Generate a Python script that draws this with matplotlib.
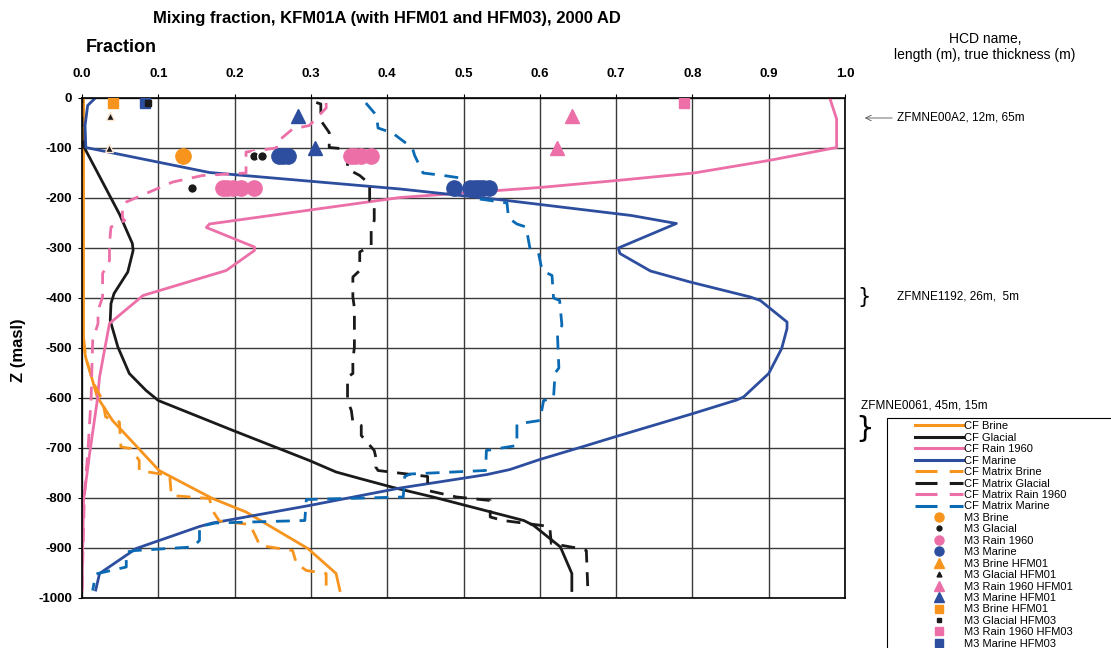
import matplotlib
matplotlib.use('Agg')
from matplotlib import pyplot as plt
from matplotlib.lines import Line2D
from matplotlib.patches import Rectangle

plt.rcParams['font.family'] = ['Liberation Sans', 'DejaVu Sans']
plt.rcParams['axes.unicode_minus'] = False

# CF curves (solid), fraction vs depth z (masl)
cf_brine_f = [0.002, 0.002, 0.002, 0.005, 0.01, 0.02, 0.04, 0.101, 0.171, 0.215, 0.296, 0.333, 0.338]
cf_brine_z = [0, -300, -495, -520, -545, -598, -645, -745, -801, -828, -901, -951, -985]

cf_glacial_f = [0.0, 0.0, 0.003, 0.049, 0.066, 0.067, 0.06, 0.042, 0.038, 0.037, 0.047, 0.062, 0.084,
                0.1, 0.198, 0.298, 0.333, 0.364, 0.408, 0.46, 0.579, 0.592, 0.627, 0.642, 0.642]
cf_glacial_z = [0, -50, -99, -232, -291, -305, -348, -391, -411, -445, -498, -551, -585,
                -605, -665, -725, -748, -761, -779, -798, -845, -855, -898, -951, -985]

cf_rain_f = [0.98, 0.989, 0.989, 0.9, 0.802, 0.701, 0.6, 0.417, 0.167, 0.163, 0.226, 0.226, 0.189,
             0.08, 0.036, 0.023, 0.02, 0.01, 0.002, 0.0]
cf_rain_z = [0, -42, -99, -125, -150, -165, -179, -199, -252, -259, -298, -305, -345,
             -395, -451, -558, -605, -711, -805, -985]

cf_marine_f = [0.0175, 0.0074, 0.004, 0.005, 0.167, 0.417, 0.557, 0.72, 0.779, 0.703, 0.705, 0.745,
               0.797, 0.876, 0.889, 0.924, 0.924, 0.917, 0.9, 0.867, 0.858, 0.801, 0.7, 0.657, 0.6,
               0.561, 0.531, 0.417, 0.298, 0.171, 0.154, 0.071, 0.023, 0.018]
cf_marine_z = [0, -15, -55, -99, -149, -182, -205, -235, -251, -300, -311, -346,
               -368, -398, -405, -448, -461, -501, -551, -598, -604, -631, -677, -697, -723,
               -743, -753, -780, -815, -850, -857, -901, -951, -984]

# CF Matrix curves (dashed, stepped)
mx_brine_f = [0.0, 0.0, 0.005, 0.015, 0.027, 0.031, 0.049, 0.051, 0.064, 0.075, 0.075, 0.115, 0.117,
              0.167, 0.171, 0.18, 0.22, 0.228, 0.233, 0.276, 0.281, 0.294, 0.32, 0.32]
mx_brine_z = [-10, -450, -520, -570, -605, -638, -648, -698, -701, -725, -745, -755, -795,
              -801, -825, -846, -853, -878, -895, -905, -931, -945, -951, -985]

mx_glacial_f = [0.307, 0.313, 0.313, 0.324, 0.324, 0.346, 0.348, 0.348, 0.364, 0.377, 0.377, 0.383,
                0.383, 0.379, 0.379, 0.364, 0.364, 0.355, 0.355, 0.357, 0.357, 0.355, 0.355, 0.348,
                0.348, 0.353, 0.355, 0.366, 0.366, 0.383, 0.385, 0.385, 0.388, 0.453, 0.453, 0.491,
                0.535, 0.535, 0.552, 0.613, 0.615, 0.652, 0.661, 0.663]
mx_glacial_z = [-9, -12, -45, -69, -99, -102, -132, -142, -155, -172, -205, -210,
                -245, -258, -295, -308, -345, -358, -398, -420, -498, -525, -551, -558,
                -605, -625, -648, -655, -675, -705, -718, -738, -745, -757, -785, -798,
                -805, -838, -845, -857, -891, -901, -905, -985]

mx_rain_f = [0.32, 0.32, 0.298, 0.276, 0.255, 0.255, 0.215, 0.215, 0.158, 0.119, 0.058, 0.053, 0.053,
             0.056, 0.038, 0.036, 0.036, 0.027, 0.027, 0.021, 0.021, 0.014, 0.012, 0.008, 0.003, 0.0]
mx_rain_z = [-10, -20, -55, -62, -89, -100, -108, -150, -155, -168, -208, -215, -240,
             -245, -258, -291, -325, -351, -398, -425, -451, -485, -598, -700, -800, -985]

mx_marine_f = [0.372, 0.386, 0.388, 0.407, 0.433, 0.436, 0.447, 0.474, 0.496, 0.511, 0.535, 0.557,
               0.559, 0.57, 0.582, 0.587, 0.598, 0.603, 0.616, 0.618, 0.626, 0.629, 0.623, 0.625,
               0.62, 0.618, 0.605, 0.6, 0.57, 0.57, 0.55, 0.53, 0.529, 0.43, 0.423, 0.421, 0.294,
               0.292, 0.175, 0.154, 0.154, 0.145, 0.07, 0.058, 0.058, 0.018, 0.014]
mx_marine_z = [-10, -35, -60, -70, -100, -115, -150, -155, -160, -200, -205, -210,
               -240, -252, -258, -300, -308, -345, -355, -400, -405, -455, -468, -540,
               -550, -600, -605, -645, -652, -695, -700, -705, -745, -752, -757, -798, -803,
               -845, -850, -857, -885, -898, -905, -908, -938, -952, -985]

# M3 sample points
m3_brine_f, m3_brine_z = [0.132], [-115]
m3_glacial_f, m3_glacial_z = [0.226, 0.236, 0.144], [-115, -115, -180]
m3_rain_f = [0.352, 0.358, 0.366, 0.379, 0.185, 0.19, 0.198, 0.209, 0.226]
m3_rain_z = [-115, -115, -115, -115, -180, -180, -180, -180, -180]
m3_marine_f = [0.258, 0.264, 0.27, 0.487, 0.508, 0.515, 0.52, 0.526, 0.533]
m3_marine_z = [-115, -115, -115, -180, -180, -180, -180, -180, -180]
brine_hfm01_f, brine_hfm01_z = [], []
glacial_hfm01_f, glacial_hfm01_z = [0.037, 0.035], [-35, -100]
rain_hfm01_f, rain_hfm01_z = [0.642, 0.623], [-35, -100]
marine_hfm01_f, marine_hfm01_z = [0.283, 0.306], [-35, -100]
brine_hfm03_f, brine_hfm03_z = [0.04], [-10]
glacial_hfm03_f, glacial_hfm03_z = [0.087], [-10]
rain_hfm03_f, rain_hfm03_z = [0.789], [-10]
marine_hfm03_f, marine_hfm03_z = [0.082], [-10]

legend_labels = ['CF Brine', 'CF Glacial', 'CF Rain 1960', 'CF Marine', 'CF Matrix Brine',
                 'CF Matrix Glacial', 'CF Matrix Rain 1960', 'CF Matrix Marine', 'M3 Brine',
                 'M3 Glacial', 'M3 Rain 1960', 'M3 Marine', 'M3 Brine HFM01', 'M3 Glacial HFM01',
                 'M3 Rain 1960 HFM01', 'M3 Marine HFM01', 'M3 Brine HFM01', 'M3 Glacial HFM03',
                 'M3 Rain 1960 HFM03', 'M3 Marine HFM03']

orange = '#F7941D'
black = '#1a1a1a'
pink = '#EC6FA8'
marine = '#2D4E9F'
marine2 = '#0A6AB4'

fig = plt.figure(figsize=(11.11, 6.48), dpi=100)
ax = fig.add_axes([82/1111, 1-598/648, 763/1111, 500/648])

lw = 2.0
dash = (5, 3.5)
ax.plot(cf_brine_f, cf_brine_z, color=orange, lw=lw)
ax.plot(cf_glacial_f, cf_glacial_z, color=black, lw=lw)
ax.plot(cf_rain_f, cf_rain_z, color=pink, lw=lw)
ax.plot(cf_marine_f, cf_marine_z, color=marine, lw=lw)
ax.plot(mx_brine_f, mx_brine_z, color=orange, lw=lw, dashes=dash)
ax.plot(mx_glacial_f, mx_glacial_z, color=black, lw=lw, dashes=dash)
ax.plot(mx_rain_f, mx_rain_z, color=pink, lw=lw, dashes=dash)
ax.plot(mx_marine_f, mx_marine_z, color=marine2, lw=lw, dashes=dash)

mk = dict(ls='none', zorder=5)
ax.plot(m3_brine_f, m3_brine_z, 'o', color=orange, ms=11, **mk)
ax.plot(m3_rain_f, m3_rain_z, 'o', color=pink, ms=11, **mk)
ax.plot(m3_marine_f, m3_marine_z, 'o', color=marine, ms=11, **mk)
ax.plot(m3_glacial_f, m3_glacial_z, 'o', color=black, mec='white', mew=1, ms=7, **mk)
ax.plot(brine_hfm01_f, brine_hfm01_z, '^', color=orange, ms=10, **mk)
ax.plot(glacial_hfm01_f, glacial_hfm01_z, '^', color=black, mec='#fbe6d0', mew=1, ms=6, **mk)
ax.plot(rain_hfm01_f, rain_hfm01_z, '^', color=pink, ms=10, **mk)
ax.plot(marine_hfm01_f, marine_hfm01_z, '^', color=marine, ms=10, **mk)
ax.plot(brine_hfm03_f, brine_hfm03_z, 's', color=orange, ms=7, **mk)
ax.plot(marine_hfm03_f, marine_hfm03_z, 's', color=marine, ms=7, **mk)
ax.plot(glacial_hfm03_f, glacial_hfm03_z, 's', color=black, ms=4, **mk)
ax.plot(rain_hfm03_f, rain_hfm03_z, 's', color=pink, ms=7, **mk)

ax.set_xlim(0, 1.0)
ax.set_ylim(-1000, 0)
ax.set_xticks([i/10 for i in range(11)])
ax.set_yticks(range(-1000, 1, 100))
ax.xaxis.tick_top()
ax.tick_params(axis='x', length=3, pad=10)
ax.tick_params(axis='y', length=3, pad=4)
for t in ax.get_xticklabels() + ax.get_yticklabels():
    t.set_fontweight('bold')
    t.set_fontsize(9.5)
ax.grid(True, color='#3a3a3a', lw=1)
for s in ax.spines.values():
    s.set_linewidth(1.2)

fig.text(387/1111, 1-18/648, 'Mixing fraction, KFM01A (with HFM01 and HFM03), 2000 AD',
         ha='center', va='center', fontsize=12, fontweight='bold')
fig.text(86/1111, 1-48/648, 'Fraction', ha='left', va='center', fontsize=13, fontweight='bold')
fig.text(18/1111, 1-350/648, 'Z (masl)', rotation=90, ha='center', va='center',
         fontsize=12, fontweight='bold')
fig.text(985/1111, 1-47/648, 'HCD name,\nlength (m), true thickness (m)', ha='center',
         va='center', fontsize=10, linespacing=1.25)

fig.text(897/1111, 1-118/648, 'ZFMNE00A2, 12m, 65m', ha='left', va='center', fontsize=8.5)
ax.annotate('', xy=(862/1111, 1-118/648), xytext=(895/1111, 1-118/648),
            xycoords='figure fraction',
            arrowprops=dict(arrowstyle='->', color='#555555', lw=0.6))
fig.text(897/1111, 1-297/648, 'ZFMNE1192, 26m,  5m', ha='left', va='center', fontsize=8.5)
fig.text(864/1111, 1-297/648, '}', ha='center', va='center', fontsize=15, family='DejaVu Sans')
fig.text(861/1111, 1-405/648, 'ZFMNE0061, 45m, 15m', ha='left', va='center', fontsize=8.5)
fig.text(865/1111, 1-429/648, '}', ha='center', va='center', fontsize=21, family='DejaVu Sans')

# legend box runs off the right and bottom edge, entries indented as in the original
fig.patches.append(Rectangle((887/1111, -0.1), 0.3, 1-418/648+0.1, fill=False, lw=0.8,
                             edgecolor='black', transform=fig.transFigure, figure=fig))
ld = (7.2, 4)
leg_h = [
    Line2D([], [], color=orange, lw=2.2),
    Line2D([], [], color=black, lw=2.2),
    Line2D([], [], color=pink, lw=2.2),
    Line2D([], [], color=marine, lw=2.2),
    Line2D([], [], color=orange, lw=2.2, dashes=ld),
    Line2D([], [], color=black, lw=2.2, dashes=ld),
    Line2D([], [], color=pink, lw=2.2, dashes=ld),
    Line2D([], [], color=marine2, lw=2.2, dashes=ld),
    Line2D([], [], color=orange, marker='o', ls='none', ms=6.5),
    Line2D([], [], color=black, marker='o', ls='none', ms=3.5),
    Line2D([], [], color=pink, marker='o', ls='none', ms=6.5),
    Line2D([], [], color=marine, marker='o', ls='none', ms=6.5),
    Line2D([], [], color=orange, marker='^', ls='none', ms=7),
    Line2D([], [], color=black, marker='^', ls='none', ms=3.5),
    Line2D([], [], color=pink, marker='^', ls='none', ms=7),
    Line2D([], [], color=marine, marker='^', ls='none', ms=7),
    Line2D([], [], color=orange, marker='s', ls='none', ms=6),
    Line2D([], [], color=black, marker='s', ls='none', ms=3.5),
    Line2D([], [], color=pink, marker='s', ls='none', ms=6),
    Line2D([], [], color=marine, marker='s', ls='none', ms=6),
]
leg = fig.legend(leg_h, legend_labels, loc='upper left',
                 bbox_to_anchor=(912/1111, 1-418/648), fontsize=8, handlelength=4.3,
                 handletextpad=0.1, labelspacing=0.13, borderpad=0.3, borderaxespad=0,
                 frameon=False)

fig.savefig('out.png', dpi=100)
